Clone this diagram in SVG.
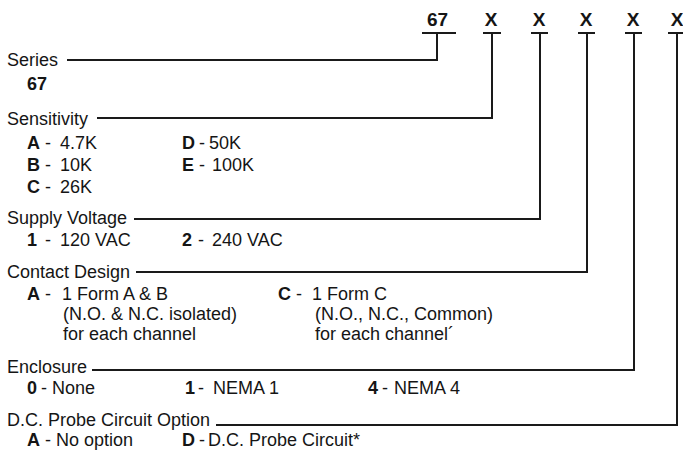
<svg xmlns="http://www.w3.org/2000/svg" width="683" height="459" viewBox="0 0 683 459">
<style>
text{font-family:"Liberation Sans",Arial,sans-serif;font-size:18px;fill:#151515}
.b{font-weight:bold}
.h{font-weight:bold;font-size:19px}
.c{fill:none;stroke:#1a1a1a;stroke-width:2;stroke-linecap:square}
</style>
<rect width="683" height="459" fill="#fff"/>
<g id="header">
<text class="h" x="427" y="26">67</text>
<text class="h" x="491" y="26" text-anchor="middle">X</text>
<text class="h" x="539" y="26" text-anchor="middle">X</text>
<text class="h" x="586" y="26" text-anchor="middle">X</text>
<text class="h" x="633" y="26" text-anchor="middle">X</text>
<text class="h" x="677" y="26" text-anchor="middle">X</text>
</g>
<g id="connectors">
<path class="c" d="M423 33H455M437 33V60H68"/>
<path class="c" d="M484 33H500M492 33V118H98"/>
<path class="c" d="M532 33H547M540 33V219H135"/>
<path class="c" d="M579 33H594M587 33V272H137"/>
<path class="c" d="M626 33H641M634 33V370H93"/>
<path class="c" d="M669 33H683M677 33V425H217"/>
</g>
<g id="series">
<text x="7" y="66">Series</text>
<text class="b" x="27" y="90">67</text>
</g>
<g id="sensitivity">
<text x="7" y="125">Sensitivity</text>
<text x="27" y="149"><tspan class="b">A</tspan><tspan x="45">-</tspan><tspan x="60">4.7K</tspan></text>
<text x="27" y="171"><tspan class="b">B</tspan><tspan x="45">-</tspan><tspan x="60">10K</tspan></text>
<text x="27" y="193"><tspan class="b">C</tspan><tspan x="45">-</tspan><tspan x="60">26K</tspan></text>
<text x="182" y="149"><tspan class="b">D</tspan><tspan x="199">-</tspan><tspan x="209">50K</tspan></text>
<text x="182" y="171"><tspan class="b">E</tspan><tspan x="199">-</tspan><tspan x="212">100K</tspan></text>
</g>
<g id="supply-voltage">
<text x="7" y="224">Supply Voltage</text>
<text x="27" y="246"><tspan class="b">1</tspan><tspan x="45">-</tspan><tspan x="60">120 VAC</tspan></text>
<text x="182" y="246"><tspan class="b">2</tspan><tspan x="198">-</tspan><tspan x="212">240 VAC</tspan></text>
</g>
<g id="contact-design">
<text x="7" y="278">Contact Design</text>
<text x="27" y="300"><tspan class="b">A</tspan><tspan x="45">-</tspan><tspan x="62">1 Form A &amp; B</tspan></text>
<text x="63" y="320">(N.O. &amp; N.C. isolated)</text>
<text x="63" y="340">for each channel</text>
<text x="278" y="300"><tspan class="b">C</tspan><tspan x="296">-</tspan><tspan x="312">1 Form C</tspan></text>
<text x="315" y="320">(N.O., N.C., Common)</text>
<text x="315" y="340">for each channel´</text>
</g>
<g id="enclosure">
<text x="7" y="373">Enclosure</text>
<text x="27" y="394"><tspan class="b">0</tspan><tspan x="41">-</tspan><tspan x="52">None</tspan></text>
<text x="185" y="394"><tspan class="b">1</tspan><tspan x="198">-</tspan><tspan x="213">NEMA 1</tspan></text>
<text x="368" y="394"><tspan class="b">4</tspan><tspan x="382">-</tspan><tspan x="394">NEMA 4</tspan></text>
</g>
<g id="dc-probe">
<text x="7" y="426">D.C. Probe Circuit Option</text>
<text x="27" y="446"><tspan class="b">A</tspan><tspan x="45">-</tspan><tspan x="56">No option</tspan></text>
<text x="182" y="446"><tspan class="b">D</tspan><tspan x="199">-</tspan><tspan x="208">D.C. Probe Circuit*</tspan></text>
</g>
</svg>
